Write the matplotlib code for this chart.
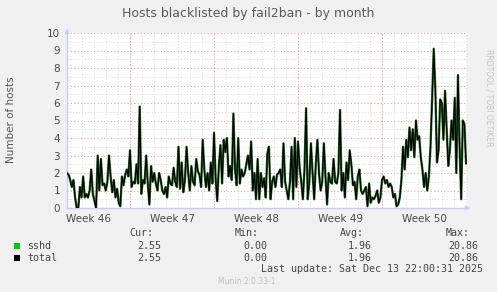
import numpy as np
import matplotlib
matplotlib.use("Agg")
import matplotlib.pyplot as plt

# hosts blacklisted, one sample every ~3 hours across the month
hosts = [2.0, 1.9, 1.6, 1.2, 1.6, 0.6, 0.0, 0.0, 1.2, 0.6, 1.8, 0.6, 0.8, 0.6, 1.0, 2.2,
         0.8, 0.4, 0.0, 3.0, 1.0, 2.8, 1.3, 1.4, 1.0, 1.5, 3.0, 1.8, 0.9, 1.6, 0.6, 1.1,
         0.3, 0.1, 1.8, 1.3, 1.9, 2.2, 1.8, 3.3, 1.2, 1.5, 1.4, 2.5, 1.4, 5.8, 0.8, 1.6,
         1.4, 3.0, 1.4, 0.2, 2.4, 1.5, 2.0, 1.4, 1.0, 2.0, 1.6, 1.0, 0.8, 1.2, 0.6, 1.8,
         1.4, 1.3, 2.3, 1.5, 1.2, 3.5, 1.1, 2.6, 0.9, 1.6, 3.5, 2.0, 1.0, 2.4, 1.5, 1.3,
         2.8, 2.1, 1.9, 1.2, 3.9, 2.2, 1.2, 2.0, 1.0, 2.6, 1.4, 4.3, 1.7, 0.4, 2.4, 3.6,
         1.4, 3.9, 3.2, 4.0, 1.8, 2.4, 1.6, 5.4, 2.2, 1.3, 4.0, 1.4, 2.2, 1.8, 2.0, 2.5,
         3.0, 2.2,
         3.8, 1.0, 2.0, 0.5, 2.8, 0.5, 2.0, 1.2, 1.7, 0.6, 3.1, 3.5, 0.5, 1.5, 1.8, 1.2,
         1.9, 2.0, 2.2, 1.2, 3.7, 1.5, 1.0, 0.5, 1.5, 3.5, 0.5, 4.0, 1.2, 3.8, 2.3, 1.5,
         0.5, 2.2, 5.7, 0.5, 1.5, 3.7, 2.0, 0.5, 2.5, 3.9, 2.0, 1.0, 1.5, 3.7, 1.8, 0.2,
         2.0, 1.5, 1.4, 2.8, 1.5, 1.4, 2.0, 5.6, 1.0, 2.0, 0.6, 2.6, 1.6, 3.3, 2.5, 1.3,
         1.5, 0.5, 1.8, 2.2, 1.0, 0.8,
         1.0, 1.2, 0.1, 1.4, 0.3, 0.6, 0.5, 0.7, 1.0, 0.3, 0.6, 1.6, 1.8, 1.4, 1.6, 1.2,
         1.4, 1.2, 0.6, 0.8, 0.1, 0.2, 0.6, 1.6, 3.5, 2.2, 3.9, 2.9, 4.6, 3.3, 4.5, 2.9,
         5.0,
         3.9, 4.1, 2.9, 2.2, 1.2, 2.0, 1.0, 1.8, 3.5, 6.2, 9.1, 6.8, 2.6, 3.3, 6.2, 6.0,
         3.9, 6.7, 4.6, 2.4, 3.3, 5.0, 3.9, 6.3, 2.0, 7.6, 3.5, 0.5, 5.0, 4.8, 2.55]

week_labels = ["Week 46", "Week 47", "Week 48", "Week 49", "Week 50"]
week_starts = [5.25, 12.25, 19.25, 26.25]   # days from left edge of graph
span_days = 33.33
data_end = 33.25

series = ["sshd", "total"]
series_colors = ["#00cc00", "#000000"]
cur = [2.55, 2.55]
vmin = [0.00, 0.00]
avg = [1.96, 1.96]
vmax = [20.86, 20.86]

W, H = 497, 292
fig = plt.figure(figsize=(W / 100, H / 100), dpi=100, facecolor="#f0f0f0")
ax = fig.add_axes([67 / W, 1 - 208 / H, 400 / W, 175 / H])
ax.set_facecolor("white")

days = np.linspace(0, data_end, len(hosts))

# grid
dot = (0, (1, 2))
for d in np.arange(0.25, span_days, 1.0):
    ax.axvline(d, color="#d9d9d9", lw=0.7, ls=dot, zorder=1)
for v in np.arange(0.5, 10.01, 1.0):
    ax.axhline(v, color="#d9d9d9", lw=0.7, ls=dot, zorder=1)
for v in range(1, 11):
    ax.axhline(v, color="#ff9a9a", lw=0.8, ls=dot, zorder=1.5)
for d in week_starts:
    ax.axvline(d, color="#ff9a9a", lw=0.8, ls=dot, zorder=1.5)

ax.plot(days, hosts, color="#2f7a2f", lw=1.7, zorder=3)
ax.plot(days, hosts, color="black", lw=0.9, zorder=4)

ax.set_xlim(0, span_days)
ax.set_ylim(0, 10)
ax.set_yticks(range(0, 11))
ax.set_yticklabels([str(i) for i in range(0, 11)])
label_pos = [week_starts[0] - 3.5] + [w + 3.5 for w in week_starts]
ax.set_xticks(label_pos)
ax.set_xticklabels(week_labels)
ax.tick_params(length=0, labelsize=7.5, colors="#4a4a4a", pad=4)
ax.tick_params(axis="y", pad=5)
for s in ["top", "right"]:
    ax.spines[s].set_visible(False)
for s in ["left", "bottom"]:
    ax.spines[s].set_color("#c8c8ff")
    ax.spines[s].set_linewidth(1.0)

# axis arrows
ax.annotate("", xy=(67 / W, 1 - 26 / H), xytext=(67 / W, 1 - 34 / H), xycoords="figure fraction",
            arrowprops=dict(arrowstyle="-|>", color="#c8c8ff", lw=1, mutation_scale=6))
ax.annotate("", xy=(473 / W, 1 - 208 / H), xytext=(465 / W, 1 - 208 / H), xycoords="figure fraction",
            arrowprops=dict(arrowstyle="-|>", color="#c8c8ff", lw=1, mutation_scale=6))

def px(x, y):
    return x / W, 1 - y / H

fig.text(*px(248, 13), "Hosts blacklisted by fail2ban - by month", ha="center", va="center",
         fontsize=9, color="#5a5a5a")
fig.text(*px(11, 120), "Number of hosts", rotation=90, ha="center", va="center",
         fontsize=7.5, color="#555555")
fig.text(*px(489, 98), "RRDTOOL / TOBI OETIKER", rotation=270, ha="center", va="center",
         fontsize=5.5, color="#c4c4c4")

mono = dict(family="DejaVu Sans Mono", fontsize=7.2, color="#444444", va="center")
fig.text(*px(153, 233), "Cur:", ha="right", **mono)
fig.text(*px(259, 233), "Min:", ha="right", **mono)
fig.text(*px(364, 233), "Avg:", ha="right", **mono)
fig.text(*px(470, 233), "Max:", ha="right", **mono)
for i, name in enumerate(series):
    y = 246 + 12 * i
    fig.patches.append(plt.Rectangle(px(14, y + 3), 6 / W, 6 / H, transform=fig.transFigure,
                                     facecolor=series_colors[i], edgecolor="none"))
    fig.text(*px(27, y), name, ha="left", **mono)
    fig.text(*px(161, y), "%.2f" % cur[i], ha="right", **mono)
    fig.text(*px(267, y), "%.2f" % vmin[i], ha="right", **mono)
    fig.text(*px(372, y), "%.2f" % avg[i], ha="right", **mono)
    fig.text(*px(478, y), "%.2f" % vmax[i], ha="right", **mono)
fig.text(*px(483, 269), "Last update: Sat Dec 13 22:00:31 2025", ha="right", **mono)
fig.text(*px(247, 282), "Munin 2.0.33-1", ha="center", va="center", fontsize=5.5, color="#c0c0c0")

fig.savefig("out.png", dpi=100, facecolor=fig.get_facecolor())
